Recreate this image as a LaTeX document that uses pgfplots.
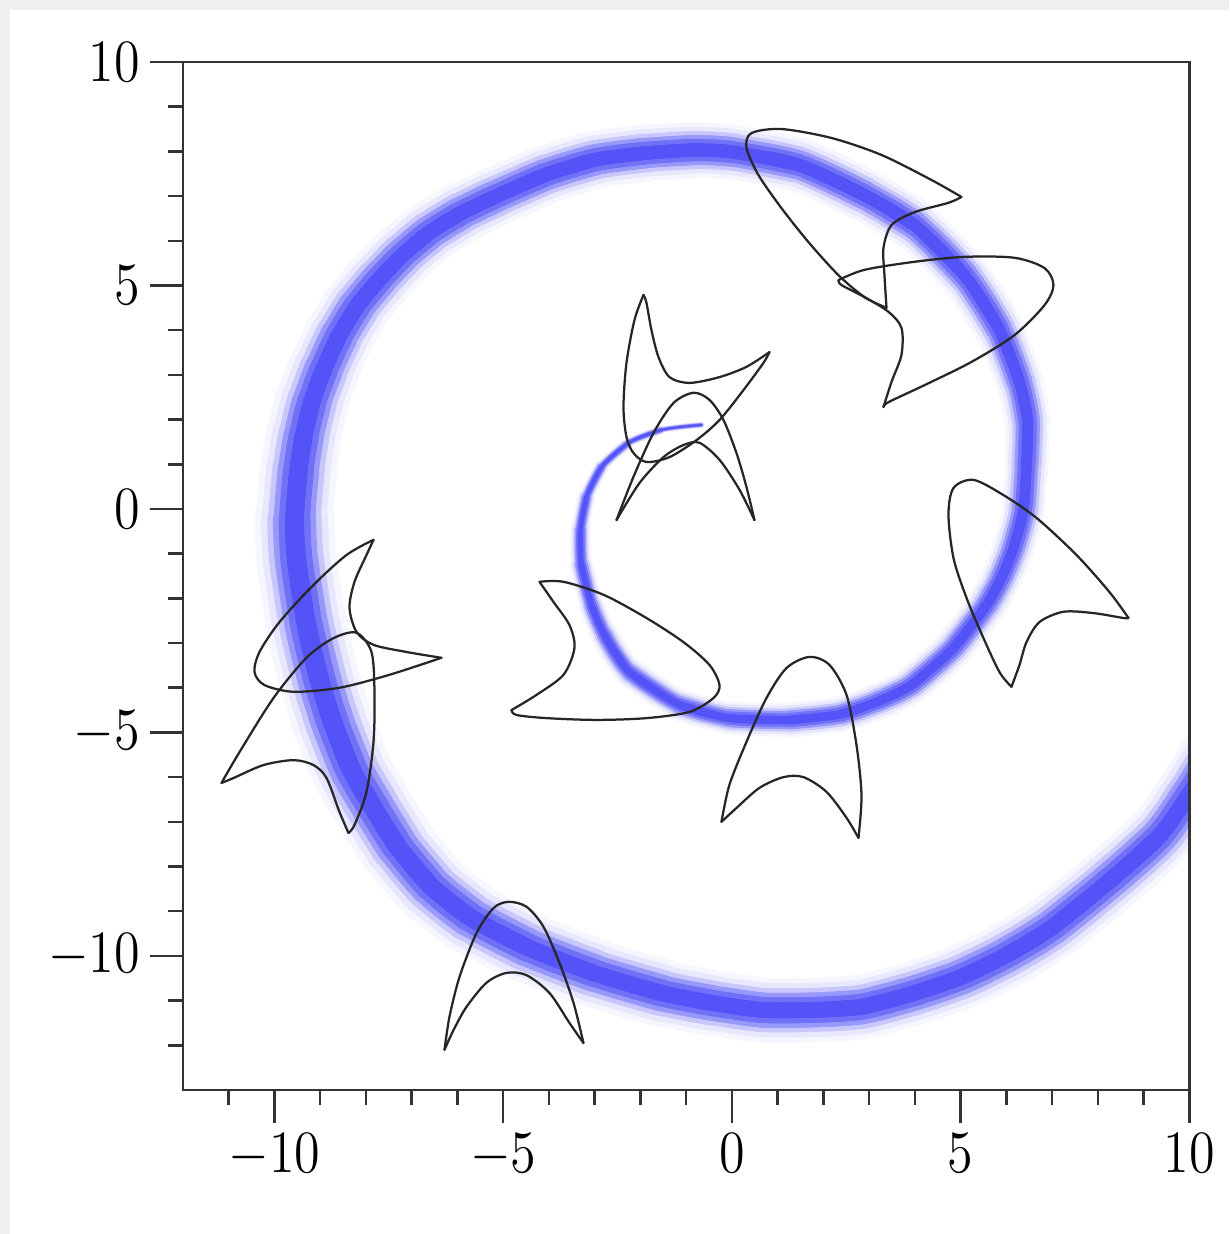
\documentclass[border=0pt]{standalone}
\usepackage{pgfplots}
\usepackage{pgfplotstable}
\pgfplotsset{compat=1.18}
\definecolor{bandcol}{RGB}{40,40,245}
\definecolor{bggray}{RGB}{240,240,240}

\pgfplotstableread{
x y
-0.667 1.88
-1.541 1.77
-2.262 1.48
-2.852 0.94
-3.180 0.27
-3.311 -0.47
-3.290 -1.25
-3.071 -2.15
-2.787 -2.82
-2.240 -3.65
-1.148 -4.38
-0.055 -4.68
1.257 -4.72
2.393 -4.59
3.158 -4.32
3.923 -3.94
4.842 -3.11
5.563 -2.15
5.891 -1.54
6.153 -0.87
6.372 -0.02
6.437 0.98
6.459 1.99
6.284 2.84
5.825 4.05
5.082 5.23
3.989 6.35
2.896 7.02
1.454 7.70
-0.011 7.99
-0.820 8.03
-1.913 7.96
-3.005 7.81
-4.098 7.47
-5.191 6.98
-5.956 6.60
-6.634 6.17
-7.224 5.66
-7.727 5.12
-8.208 4.52
-8.601 3.85
-8.929 3.11
-9.191 2.37
-9.366 1.61
-9.475 0.87
-9.563 -0.25
-9.519 -1.14
-9.301 -2.60
-9.016 -3.83
-8.710 -4.83
-8.317 -5.84
-7.836 -6.69
-7.333 -7.52
-6.610 -8.41
-5.750 -9.12
-4.492 -9.80
-3.027 -10.38
-1.541 -10.83
-0.448 -11.05
0.645 -11.21
1.738 -11.21
2.831 -11.14
3.923 -10.85
5.016 -10.47
6.000 -9.98
6.984 -9.37
8.230 -8.34
9.322 -7.34
9.978 -6.40
10.59 -5.39
}\spiral

% one layer of the blurred band: #1 width factor, #2 colour percent
\newcommand{\bandlayer}[2]{%
\foreach \a/\w in {0/1.4,1/1.9,2/2.4,3/3.0,4/3.6,5/4.2,6/4.8,7/5.2,8/5.6,9/6.0,
  10/6.4,11/6.7,12/7.0,13/7.2,14/7.4,15/7.6,16/7.8,17/8.0,18/8.2,19/8.4,
  20/8.6,21/8.9,22/9.2,23/9.5,24/9.8,25/10.1,26/10.4,27/10.6,28/10.8,29/11.0,
  30/11.2,31/11.4,32/11.6,33/11.8,34/12.0,35/12.3,36/12.6,37/12.9,38/13.2,39/13.6,
  40/14.0,41/14.4,42/14.8,43/15.1,44/15.4,45/16.0,46/16.0,47/16.0,48/15.8,49/15.6,
  50/15.2,51/14.8,52/14.4,53/14.0,54/13.6,55/13.2,56/13.0,57/12.8,58/12.8,59/12.8,
  60/12.8,61/12.8,62/12.9,63/13.0,64/13.1,65/13.2,66/13.2}{%
  \pgfmathtruncatemacro{\b}{\a+4}%
  \edef\tmp{\noexpand\addplot[draw=bandcol!#2, line width=#1*\w pt,
    skip coords between index={-1}{\a}, skip coords between index={\b}{999}]
    table {\noexpand\spiral};}%
  \tmp
}}

\begin{document}
\begin{tikzpicture}
\fill[bggray] (-36.6pt,-28.8pt) rectangle (209.2pt,218pt);
\fill[white] (-34.6pt,-28.8pt) rectangle (209.2pt,216pt);
\begin{axis}[
  scale only axis,
  axis on top,
  width=201.3pt, height=205.6pt,
  xmin=-12, xmax=10, ymin=-13, ymax=10,
  axis line style={draw=black!80, line width=0.5pt},
  tick pos=left,
  tick align=outside,
  xtick={-10,-5,0,5,10},
  ytick={-10,-5,0,5,10},
  minor xtick={-11,-9,-8,-7,-6,-4,-3,-2,-1,1,2,3,4,6,7,8,9},
  minor ytick={-12,-11,-9,-8,-7,-6,-4,-3,-2,-1,1,2,3,4,6,7,8,9},
  major tick length=6.6pt,
  minor tick length=3pt,
  tick style={draw=black!80, line width=0.5pt},
  tick label style={font=\fontsize{11.5}{13}\selectfont, xscale=0.87},
  xticklabel style={yshift=1.4pt},
  yticklabel style={xshift=1.2pt},
  no markers,
  every axis plot/.append style={smooth, line cap=round, line join=round},
  shp/.style={draw=black!85, line width=0.45pt},
]
\bandlayer{1.0}{4}
\bandlayer{0.84}{11}
\bandlayer{0.68}{26}
\bandlayer{0.54}{48}
\bandlayer{0.4}{66}
\bandlayer{0.24}{80}

% Shape A
\addplot[shp] table {
x y
5.016 6.98
4.361 7.36
3.268 7.92
2.175 8.30
1.082 8.50
0.426 8.41
0.317 8.08
0.579 7.47
1.082 6.73
1.672 5.97
2.328 5.23
2.896 4.74
3.377 4.50
};
\addplot[shp] table {
x y
3.377 4.50
3.333 5.23
3.311 5.84
3.486 6.35
3.989 6.64
4.732 6.85
5.016 6.98
};
% Shape B
\addplot[shp] table {
x y
2.328 5.12
2.896 5.35
3.989 5.53
5.082 5.64
6.175 5.62
6.831 5.39
7.027 5.01
6.831 4.56
6.175 3.89
5.235 3.29
4.208 2.77
3.421 2.39
3.311 2.28
};
\addplot[shp] table {
x y
3.311 2.28
3.486 2.84
3.705 3.45
3.705 4.05
3.421 4.41
2.896 4.74
2.393 5.01
2.328 5.12
};
% Shape C
\addplot[shp] table {
x y
-1.934 4.79
-2.131 4.23
-2.306 3.27
-2.372 2.28
-2.306 1.61
-2.153 1.25
-1.869 1.05
-1.366 1.16
-0.776 1.54
-0.273 1.99
0.251 2.66
0.689 3.27
0.820 3.51
};
\addplot[shp] table {
x y
0.820 3.51
0.317 3.18
-0.273 2.95
-0.929 2.82
-1.366 2.95
-1.607 3.40
-1.760 4.00
-1.869 4.61
-1.934 4.79
};
% Shape D
\addplot[shp] table {
x y
-2.525 -0.25
-2.153 0.72
-1.716 1.70
-1.279 2.37
-0.842 2.60
-0.492 2.44
-0.186 1.99
0.098 1.25
0.317 0.49
0.492 -0.25
};
\addplot[shp] table {
x y
0.492 -0.25
0.164 0.43
-0.273 1.10
-0.710 1.48
-1.060 1.43
-1.497 1.16
-2.022 0.58
-2.525 -0.25
};
% Shape E
\addplot[shp] table {
x y
8.667 -2.44
8.251 -1.86
7.530 -1.03
6.656 -0.20
5.934 0.31
5.279 0.65
4.842 0.47
4.732 -0.13
4.842 -1.10
5.126 -1.99
5.497 -2.89
5.847 -3.65
6.109 -3.98
};
\addplot[shp] table {
x y
6.109 -3.98
6.284 -3.49
6.437 -2.98
6.721 -2.53
7.246 -2.30
7.902 -2.33
8.557 -2.44
8.667 -2.44
};
% Shape F
\addplot[shp] table {
x y
-4.208 -1.63
-3.683 -1.63
-2.809 -1.92
-1.869 -2.44
-1.060 -2.98
-0.492 -3.49
-0.273 -3.94
-0.404 -4.23
-0.929 -4.54
-1.869 -4.68
-2.962 -4.72
-4.055 -4.68
-4.710 -4.61
-4.820 -4.50
};
\addplot[shp] table {
x y
-4.820 -4.50
-4.273 -4.16
-3.683 -3.71
-3.443 -3.11
-3.552 -2.60
-3.902 -2.08
-4.208 -1.63
};
% Shape G
\addplot[shp] table {
x y
-0.230 -7.00
-0.055 -6.17
0.317 -5.21
0.754 -4.23
1.191 -3.56
1.694 -3.31
2.131 -3.49
2.503 -4.16
2.721 -5.28
2.831 -6.40
2.765 -7.36
};
\addplot[shp] table {
x y
2.765 -7.36
2.503 -6.91
2.066 -6.33
1.563 -6.00
1.126 -6.00
0.601 -6.24
0.098 -6.69
-0.230 -7.00
};
% Shape H
\addplot[shp] table {
x y
-7.836 -0.69
-8.426 -1.03
-9.148 -1.70
-9.891 -2.53
-10.328 -3.20
-10.437 -3.65
-10.219 -3.94
-9.585 -4.09
-8.579 -4.00
-7.486 -3.71
-6.350 -3.33
};
\addplot[shp] table {
x y
-6.350 -3.33
-7.115 -3.20
-7.836 -3.04
-8.208 -2.75
-8.361 -2.21
-8.251 -1.63
-7.989 -1.03
-7.836 -0.69
};
% Shape I
\addplot[shp] table {
x y
-11.158 -6.13
-10.765 -5.44
-10.022 -4.23
-9.301 -3.33
-8.710 -2.89
-8.208 -2.77
-7.880 -3.20
-7.814 -4.09
-7.836 -5.21
-7.989 -6.33
-8.251 -7.07
-8.383 -7.25
};
\addplot[shp] table {
x y
-8.383 -7.25
-8.579 -6.78
-8.863 -6.02
-9.148 -5.73
-9.585 -5.62
-10.240 -5.73
-10.896 -6.02
-11.158 -6.13
};
% Shape J
\addplot[shp] table {
x y
-6.284 -12.10
-6.175 -11.36
-5.956 -10.47
-5.585 -9.49
-5.213 -8.93
-4.885 -8.79
-4.492 -8.90
-4.120 -9.35
-3.770 -10.16
-3.464 -11.05
-3.246 -11.95
};
\addplot[shp] table {
x y
-3.246 -11.95
-3.552 -11.50
-3.989 -10.83
-4.492 -10.43
-4.929 -10.38
-5.366 -10.60
-5.803 -11.14
-6.087 -11.66
-6.284 -12.10
};
\end{axis}
\end{tikzpicture}
\end{document}
